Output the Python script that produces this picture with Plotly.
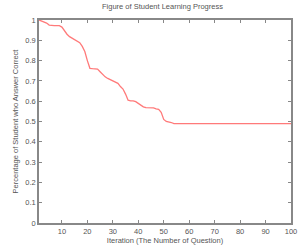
import plotly.graph_objects as go

iterations = list(range(1, 101))
head_values = [1.0, 0.995, 0.99, 0.985, 0.975, 0.972, 0.972, 0.972, 0.972, 0.965,
               0.945, 0.93, 0.918, 0.91, 0.90, 0.893, 0.888, 0.87, 0.845, 0.80,
               0.762, 0.76, 0.76, 0.758, 0.745, 0.732, 0.72, 0.712, 0.706, 0.70,
               0.698, 0.688, 0.672, 0.66, 0.635, 0.605, 0.602, 0.602, 0.598, 0.59,
               0.578, 0.572, 0.568, 0.568, 0.568, 0.567, 0.562, 0.56, 0.545, 0.51,
               0.50, 0.498, 0.495, 0.49]
tail_values = [0.49] * (100 - len(head_values))
percent_correct = head_values + tail_values

x_ticks = [10, 20, 30, 40, 50, 60, 70, 80, 90, 100]
y_ticks = [0, 0.1, 0.2, 0.3, 0.4, 0.5, 0.6, 0.7, 0.8, 0.9, 1]
y_tick_labels = ["0", "0.1", "0.2", "0.3", "0.4", "0.5", "0.6", "0.7", "0.8", "0.9", "1"]

FONT = "Liberation Sans"
TXT = "#555555"

fig = go.Figure(go.Scatter(x=iterations, y=percent_correct, mode="lines",
                           line=dict(color="#ff7a7a", width=1.3)))

axis_common = dict(showline=True, linecolor="#888888", linewidth=1.5, mirror="ticks",
                   ticks="inside", ticklen=3, tickcolor="#888888", showgrid=False,
                   zeroline=False, ticklabeloverflow="allow",
                   tickfont=dict(family=FONT, size=7.5, color=TXT))

fig.update_xaxes(range=[1, 100], tickvals=x_ticks,
                 title=dict(text="Iteration (The Number of Question)", standoff=3,
                            font=dict(family=FONT, size=7.5, color=TXT)),
                 **axis_common)
fig.update_yaxes(range=[0, 1], tickvals=y_ticks, ticktext=y_tick_labels,
                 title=dict(text="Percentage of Student who Answer Correct", standoff=6,
                            font=dict(family=FONT, size=7.5, color=TXT)),
                 **axis_common)

fig.update_layout(
    width=300, height=247,
    margin=dict(l=39, r=3, t=20, b=24),
    paper_bgcolor="white", plot_bgcolor="white",
    showlegend=False,
    title=dict(text="Figure of Student Learning Progress", xref="paper", x=0.49,
               xanchor="center", yref="container", y=0.985, yanchor="top",
               font=dict(family=FONT, size=7.5, color=TXT)),
)

fig.write_html("out.html", config={"displayModeBar": False},
               post_script="document.body.style.margin='0';document.body.style.overflow='hidden';")
